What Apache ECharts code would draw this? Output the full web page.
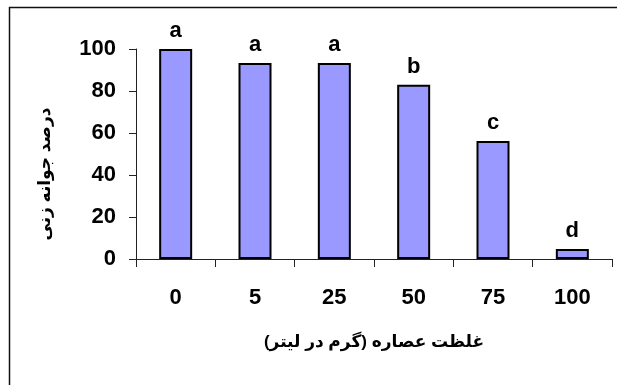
<!DOCTYPE html>
<html><head><meta charset="utf-8">
<script src="https://cdn.jsdelivr.net/npm/echarts@6/dist/echarts.min.js"></script>
<style>html,body{margin:0;padding:0;background:#fff}#c{width:617px;height:385px}</style>
</head><body><div id="c"></div>
<script>
const categories = ['0','5','25','50','75','100'];
const values = [100, 93.3, 93.3, 83, 56.2, 4.8];
const letters = ['a','a','a','b','c','d'];
const yTicks = [0,20,40,60,80,100];
const xTitle = 'غلظت عصاره (گرم در لیتر)';
const yTitle = 'درصد جوانه زنی';

const FONT = 'Arial, "Liberation Sans", "DejaVu Sans", sans-serif';
const chart = echarts.init(document.getElementById('c'), null, {renderer:'canvas'});
chart.setOption({
  animation:false,
  backgroundColor:'#fff',
  grid:{left:136, right:5, top:49, bottom:126, containLabel:false},
  xAxis:{
    type:'category', data:categories,
    axisLine:{lineStyle:{color:'#222', width:1}},
    axisTick:{show:true, inside:false, length:8, alignWithLabel:false, lineStyle:{color:'#222'}},
    axisLabel:{color:'#000', fontSize:22, fontWeight:'bold', fontFamily:FONT, margin:28},
    name:xTitle, nameLocation:'middle', nameGap:75,
    nameTextStyle:{color:'#000', fontSize:17, fontWeight:'bold', fontFamily:FONT}
  },
  yAxis:{
    type:'value', min:0, max:100, interval:20,
    axisLine:{show:true, lineStyle:{color:'#222', width:1}},
    axisTick:{show:true, length:7, lineStyle:{color:'#222'}},
    splitLine:{show:false},
    axisLabel:{color:'#000', fontSize:22, fontWeight:'bold', fontFamily:FONT, margin:20,
      formatter:v=>yTicks.includes(v)?String(v):''}
  },
  series:[{
    type:'bar', data:values, barWidth:33,
    itemStyle:{color:'#9999FF', borderColor:'#000', borderWidth:2},
    label:{show:true, position:'top', distance:7, color:'#000', fontSize:22, fontWeight:'bold', fontFamily:FONT,
      formatter:p=>letters[p.dataIndex]}
  }],
  graphic:[
    {type:'line', shape:{x1:9, y1:7.5, x2:617, y2:7.5}, style:{stroke:'#111', lineWidth:1.5}},
    {type:'line', shape:{x1:9.5, y1:7, x2:9.5, y2:385}, style:{stroke:'#111', lineWidth:1.5}},
    {type:'text', x:45, y:174, rotation:Math.PI/2,
      style:{text:yTitle, fill:'#000', font:'bold 17px '+FONT, textAlign:'center', textVerticalAlign:'middle'}}
  ]
});
</script></body></html>
